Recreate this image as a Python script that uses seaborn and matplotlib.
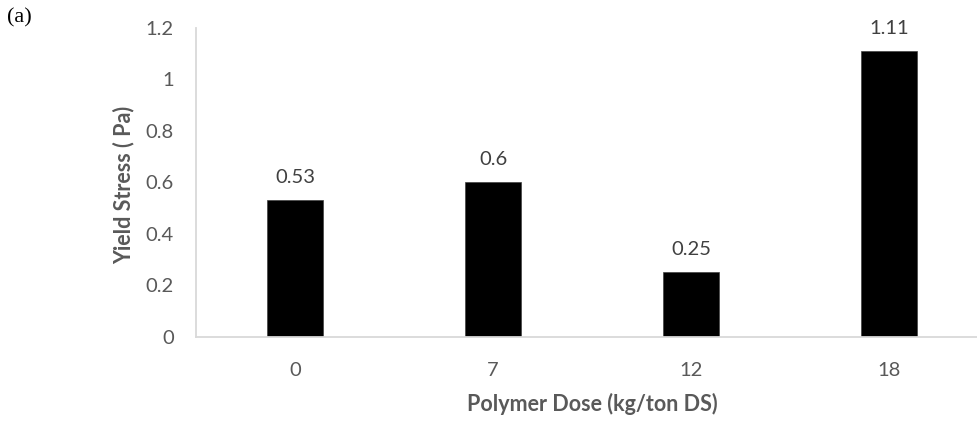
import matplotlib
matplotlib.use("Agg")
import matplotlib.pyplot as plt
import seaborn as sns
import pandas as pd

doses = ["0", "7", "12", "18"]
yield_stress = [0.53, 0.6, 0.25, 1.11]
y_ticks = [0, 0.2, 0.4, 0.6, 0.8, 1, 1.2]
y_tick_labels = ["0", "0.2", "0.4", "0.6", "0.8", "1", "1.2"]
value_labels = ["0.53", "0.6", "0.25", "1.11"]

sns.set_style("white")
plt.rcParams["font.family"] = ["Lato", "DejaVu Sans"]

df = pd.DataFrame({"dose": doses, "ys": yield_stress})

fig = plt.figure(figsize=(9.77, 4.23), dpi=100)
ax = fig.add_axes([196/977, 86.5/423, 792/977, 308.6/423])
sns.barplot(data=df, x="dose", y="ys", order=doses, color="black",
            width=0.28, ax=ax, saturation=1, edgecolor="#404040", linewidth=0.5)

ax.set_ylim(0, 1.2)
ax.set_yticks(y_ticks)
ax.set_yticklabels(y_tick_labels)
ax.tick_params(axis="both", length=0, labelsize=14.5, colors="#595959")
ax.tick_params(axis="y", pad=16)
ax.tick_params(axis="x", pad=18)
for s in ["top", "right"]:
    ax.spines[s].set_visible(False)
for s in ["left", "bottom"]:
    ax.spines[s].set_color("#d9d9d9")
    ax.spines[s].set_linewidth(1.3)

ax.set_xlabel("Polymer Dose (kg/ton DS)", fontsize=15.5, fontweight="bold",
              color="#595959")
ax.xaxis.set_label_coords(0.5, -(393 - 336.5) / 308.6)
ax.set_ylabel("Yield Stress ( Pa)", fontsize=15.5, fontweight="bold",
              color="#595959")
ax.yaxis.set_label_coords((135 - 196) / 792, 0.49)

for p, lab in zip(ax.patches, value_labels):
    ax.annotate(lab, (p.get_x() + p.get_width()/2, p.get_height()),
                xytext=(0, 10), textcoords="offset points",
                ha="center", va="bottom", fontsize=14.5, color="#404040")

fig.text(7/977, 1 - 18/423, "(a)", fontsize=16, family="Liberation Serif",
         va="center", ha="left", color="black")

fig.savefig("out.png", dpi=100)
